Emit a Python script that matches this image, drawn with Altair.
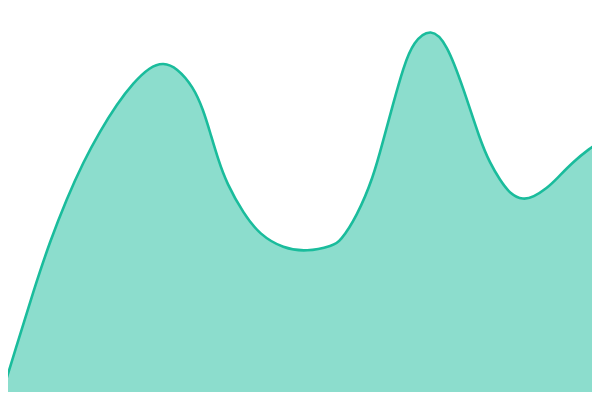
import altair as alt
import pandas as pd

# x in "day" units (0-100), y as value (0-100)
days = [0.00, 2.78, 5.55, 8.33, 11.12, 13.88, 16.67, 19.45, 22.22, 25.0, 27.22, 29.45,
        32.22, 33.88, 35.0, 36.38, 37.78, 40.55, 43.33, 47.22, 51.12, 55.55, 56.67,
        59.45, 62.22, 63.88, 65.55, 67.22, 68.88, 71.83, 74.45, 77.22, 80.0, 81.67,
        83.33, 85.0, 87.22, 88.88, 91.12, 92.78, 95.55, 98.33, 100.0]
values = [0.00, 13.58, 27.15, 39.68, 50.33, 59.5, 67.23, 73.9, 79.33, 83.3, 84.4, 83.1,
          78.33, 72.5, 67.0, 60.0, 54.18, 46.68, 41.25, 37.9, 37.0, 38.63, 39.58,
          45.83, 55.63, 65.0, 74.18, 83.13, 89.6, 93.1, 89.2, 78.0, 65.0, 59.18,
          55.0, 51.5, 50.0, 50.75, 52.9, 55.3, 59.58, 62.93, 64.58]

df = pd.DataFrame({"day": days, "value": values})

chart = alt.Chart(df).mark_area(
    interpolate="basis",
    color="#1abc9c",
    fillOpacity=0.5,
    line={"color": "#1abc9c", "strokeWidth": 2.6},
    clip=True,
).encode(
    x=alt.X("day:Q", axis=None, scale=alt.Scale(domain=[8 / 6, 592 / 6], nice=False, zero=False)),
    y=alt.Y("value:Q", axis=None, scale=alt.Scale(domain=[2, 98], nice=False, zero=False)),
).properties(
    width=584,
    height=384,
    padding=0,
    autosize=alt.AutoSizeParams(type="none"),
).configure_view(stroke=None)

chart.save("out.html", embed_options={"renderer": "svg", "actions": False})
